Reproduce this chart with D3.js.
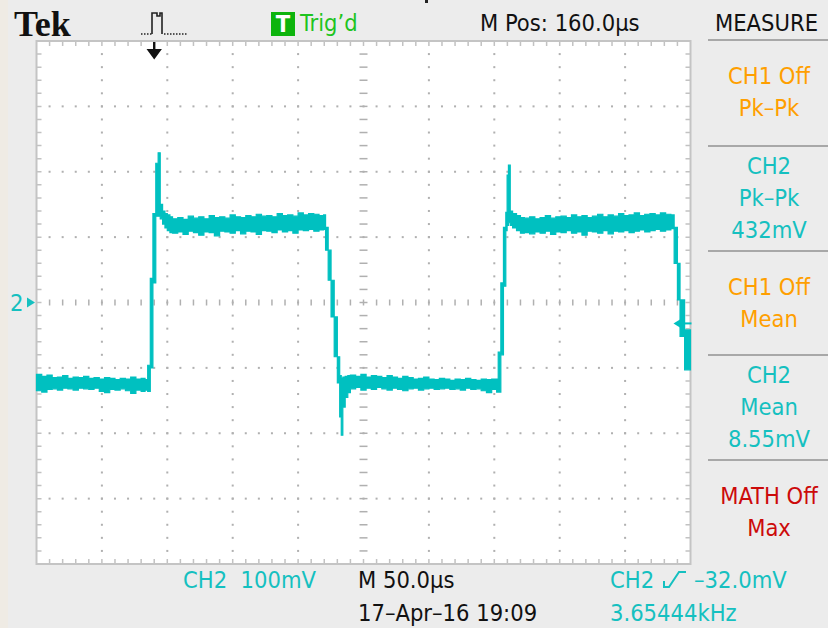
<!DOCTYPE html>
<html>
<head>
<meta charset="utf-8">
<title>Tek CH2 capture</title>
<script src="https://cdn.jsdelivr.net/npm/d3@7/dist/d3.min.js"></script>
<style>
  body { margin: 0; background: #ececec; }
  svg { display: block; }
  .lbl { font-family: "DejaVu Sans Condensed", "Liberation Sans Narrow", "DejaVu Sans", sans-serif;
         font-stretch: condensed; font-size: 23.5px; }
</style>
</head>
<body>
<script>

// CH2 trace, read off the screen as a min / max envelope per time column
// time in us (0 = trigger point), voltage in mV
var traceTime = [
  -90, -86, -82, -78, -74, -70, -66, -62, -58, -54, -50, -46, -42, -38, -34, -30, -26, -22, -18, -14, -10, -7,
  -5, -3, -1, 1.2, 3, 4.6, 6.4, 8.2, 10, 12,
  14, 18, 22, 26, 30, 34, 38, 42, 46, 50, 54, 58, 62, 66, 70, 74, 78, 82, 86, 90, 94, 98, 102, 106, 110, 114, 118, 122, 126,
  129.5, 131, 133, 135.2, 137.6, 140, 141.8, 143, 144.2, 146, 148,
  150, 154, 158, 162, 166, 170, 174, 178, 182, 186, 190, 194, 198, 202, 206, 210, 214, 218, 222, 226, 230, 234, 238, 242, 246, 250, 254, 258,
  261.8, 263, 265, 267, 268.8, 269.8, 270.8, 272.2, 274, 277, 280,
  283, 287, 291, 295, 299, 303, 307, 311, 315, 319, 323, 327, 331, 335, 339, 343, 347, 351, 355, 359, 363, 367, 371, 375, 379, 383, 387, 391, 395,
  397.5, 400, 402, 405.5, 410
];
var traceMax = [
  -110, -113, -111, -115, -114, -112, -116, -114, -115, -113, -116, -115, -117, -115, -116, -118, -116, -117, -114, -117, -116, -118,
  -96, 37, 136, 213, 229, 150, 140, 136, 134, 131,
  128, 130, 127, 132, 129, 131, 128, 133, 130, 131, 129, 134, 131, 130, 133, 131, 135, 132, 133, 131, 136, 133, 134, 132, 137, 134, 136, 135, 133,
  134, 115, 80, 34, -22, -83, -112, -116, -114, -113, -112,
  -111, -113, -110, -114, -112, -113, -115, -112, -114, -116, -113, -115, -117, -116, -114, -117, -118, -116, -117, -119, -117, -118, -116, -118, -119, -117, -118, -117,
  -117, -76, 30, 115, 138, 195, 210, 140, 136, 133, 130,
  129, 131, 128, 130, 133, 129, 131, 132, 130, 134, 131, 133, 130, 132, 135, 131, 134, 132, 136, 133, 134, 137, 133, 135, 136, 134, 137, 135, 134,
  115, 60, 4, -42, -42
];
var traceMin = [
  -135, -137, -133, -132, -134, -131, -132, -134, -131, -132, -133, -131, -136, -138, -133, -134, -132, -135, -139, -134, -136, -134,
  -136, -100, 30, 132, 132, 128, 120, 114, 110, 107,
  106, 108, 104, 109, 107, 103, 108, 107, 102, 109, 108, 106, 110, 105, 109, 108, 104, 110, 109, 107, 111, 108, 110, 106, 111, 110, 112, 109, 111,
  112, 80, 34, -22, -83, -123, -175, -203, -160, -145, -138,
  -132, -130, -134, -131, -133, -130, -132, -134, -131, -133, -135, -132, -131, -134, -132, -131, -133, -132, -131, -133, -132, -134, -131, -133, -132, -135, -138, -133,
  -137, -137, -80, 25, 110, 118, 122, 118, 114, 110, 106,
  107, 105, 108, 106, 109, 104, 108, 107, 110, 106, 108, 103, 109, 108, 106, 110, 105, 109, 108, 110, 107, 109, 111, 108, 110, 112, 109, 111, 113,
  60, 4, -52, -103, -103
];

// screen settings
var timeDomain = [-90, 410];     // 50 us/div, M Pos 160 us
var voltDomain = [-400, 400];    // 100 mV/div
var timeMinor = 10, voltMinor = 20;
var timeMajor = 50, voltMajor = 100;
var triggerLevel = -32;          // mV

// readouts
var measureLines = [
  ["CH1 Off", "Pk\u2013Pk"],
  ["CH2", "Pk\u2013Pk", "432mV"],
  ["CH1 Off", "Mean"],
  ["CH2", "Mean", "8.55mV"],
  ["MATH Off", "Max"]
];
var measureColors = ["#ff9f00", "#15c0c0", "#ff9f00", "#15c0c0", "#cc0a0a"];

var cyan = "#00c0c0";
var w = 828, h = 628;

var svg = d3.select("body").append("svg")
  .attr("width", w)
  .attr("height", h);

svg.append("rect").attr("width", w).attr("height", h).attr("fill", "#ececec");
svg.append("rect").attr("width", 8).attr("height", h).attr("fill", "#efebe4");

// scales for the graticule
var x = d3.scaleLinear().domain(timeDomain).range([36.5, 690.5]);
var y = d3.scaleLinear().domain(voltDomain).range([564, 41]);

var x0 = x.range()[0], x1 = x.range()[1];
var y0 = y.range()[1], y1 = y.range()[0];

svg.append("rect")
  .attr("x", x0).attr("y", y0)
  .attr("width", x1 - x0).attr("height", y1 - y0)
  .attr("fill", "#ffffff");

var grid = svg.append("g");
var gridColor = "#b0b0b0";

var minorT = d3.range(timeDomain[0] + timeMinor, timeDomain[1], timeMinor);
var minorV = d3.range(voltDomain[0] + voltMinor, voltDomain[1], voltMinor);
var majorT = d3.range(timeDomain[0] + timeMajor, timeDomain[1], timeMajor);
var majorV = d3.range(voltDomain[0] + voltMajor, voltDomain[1], voltMajor);
var centerT = (timeDomain[0] + timeDomain[1]) / 2;

// dotted major lines
majorT.filter(function(t) { return t != centerT; }).forEach(function(t) {
  grid.selectAll(null).data(minorV).enter().append("rect")
    .attr("x", x(t) - 1).attr("y", function(v) { return y(v) - 1; })
    .attr("width", 2).attr("height", 2).attr("fill", gridColor);
});
majorV.filter(function(v) { return v != 0; }).forEach(function(v) {
  grid.selectAll(null).data(minorT).enter().append("rect")
    .attr("x", function(t) { return x(t) - 1; }).attr("y", y(v) - 1)
    .attr("width", 2).attr("height", 2).attr("fill", gridColor);
});

// centre lines with dashes
grid.selectAll(null).data(minorV).enter().append("line")
  .attr("x1", x(centerT) - 4).attr("x2", x(centerT) + 4)
  .attr("y1", function(v) { return y(v); }).attr("y2", function(v) { return y(v); })
  .attr("stroke", gridColor).attr("stroke-width", 1.5);
grid.selectAll(null).data(minorT).enter().append("line")
  .attr("y1", y(0) - 3).attr("y2", y(0) + 3)
  .attr("x1", function(t) { return x(t); }).attr("x2", function(t) { return x(t); })
  .attr("stroke", gridColor).attr("stroke-width", 1.5);

// border ticks
grid.selectAll(null).data(minorT).enter().append("path")
  .attr("d", function(t) { return "M" + x(t) + "," + y0 + "v5M" + x(t) + "," + y1 + "v-5"; })
  .attr("stroke", "#c2c2c2").attr("stroke-width", 1.5);
grid.selectAll(null).data(minorV).enter().append("path")
  .attr("d", function(v) { return "M" + x0 + "," + y(v) + "h5M" + x1 + "," + y(v) + "h-5"; })
  .attr("stroke", "#c2c2c2").attr("stroke-width", 1.5);

svg.append("rect")
  .attr("x", x0).attr("y", y0)
  .attr("width", x1 - x0).attr("height", y1 - y0)
  .attr("fill", "none").attr("stroke", "#c4c4c4").attr("stroke-width", 2);

// the trace
var trace = traceTime.map(function(t, i) {
  return { t: t, hi: traceMax[i], lo: traceMin[i] };
});

var area = d3.area()
  .curve(d3.curveStepAfter)
  .x(function(d) { return x(d.t); })
  .y0(function(d) { return y(d.lo); })
  .y1(function(d) { return y(d.hi); });

svg.append("path")
  .datum(trace)
  .attr("d", area)
  .attr("fill", cyan)
  .attr("stroke", cyan)
  .attr("stroke-width", 1.2)
  .attr("stroke-linejoin", "miter");

// trigger position marker (t = 0)
var tx = x(0);
svg.append("path")
  .attr("d", "M" + (tx - 1.2) + "," + (y0 + 1) + "h2.4v7h6.5l-7.7,10.5l-7.7,-10.5h6.5z")
  .attr("fill", "#111");

// trigger level marker on the right edge
var ty = y(triggerLevel);
svg.append("path")
  .attr("d", "M" + (x1 - 17) + "," + ty + "l8,-5v10z")
  .attr("fill", cyan);
svg.append("line")
  .attr("x1", x1 - 10).attr("x2", x1 + 1)
  .attr("y1", ty).attr("y2", ty)
  .attr("stroke", cyan).attr("stroke-width", 2);

// channel 2 ground marker
svg.append("text").attr("class", "lbl")
  .attr("x", 10).attr("y", y(0) + 8.5)
  .attr("fill", "#15c0c0")
  .text("2");
svg.append("path")
  .attr("d", "M27," + (y(0) - 5) + "l8,5l-8,5z")
  .attr("fill", "#15c0c0");

// header
svg.append("text")
  .attr("x", 14).attr("y", 36)
  .attr("font-family", "Liberation Serif, serif")
  .attr("font-weight", "bold")
  .attr("font-size", 36)
  .attr("fill", "#111")
  .text("Tek");

svg.append("path")
  .attr("d", "M141,34h11")
  .attr("stroke", "#222").attr("stroke-width", 1.5).attr("stroke-dasharray", "1.5,1.5");
svg.append("path")
  .attr("d", "M152,34V13h5v3h3v-3h2V34")
  .attr("fill", "none").attr("stroke", "#222").attr("stroke-width", 1.6);
svg.append("path")
  .attr("d", "M164,34h23")
  .attr("stroke", "#222").attr("stroke-width", 1.5).attr("stroke-dasharray", "1.5,1.5");

svg.append("rect")
  .attr("x", 271).attr("y", 12).attr("width", 24).attr("height", 24)
  .attr("fill", "#0db40d");
svg.append("text").attr("class", "lbl")
  .attr("x", 283).attr("y", 32)
  .attr("text-anchor", "middle")
  .attr("font-size", 19).attr("font-weight", "bold")
  .attr("fill", "#ffffff")
  .text("T");
svg.append("text").attr("class", "lbl")
  .attr("x", 300).attr("y", 31)
  .attr("fill", "#1fc41f")
  .text("Trig\u2019d");

svg.append("rect").attr("x", 425).attr("y", 0).attr("width", 3).attr("height", 3).attr("fill", "#222");

svg.append("text").attr("class", "lbl")
  .attr("x", 480).attr("y", 31)
  .attr("fill", "#111")
  .text("M Pos: 160.0\u00b5s");

svg.append("text").attr("class", "lbl")
  .attr("x", 715).attr("y", 31)
  .attr("fill", "#111")
  .text("MEASURE");

// measurement panel
var sepY = [40, 146, 251, 355, 460];
svg.selectAll(".sep").data(sepY).enter().append("line")
  .attr("class", "sep")
  .attr("x1", 708).attr("x2", w)
  .attr("y1", function(d) { return d; }).attr("y2", function(d) { return d; })
  .attr("stroke", "#a8a8a8").attr("stroke-width", 2);

measureLines.forEach(function(lines, i) {
  var top = sepY[i];
  var first = lines.length == 2 ? top + 44 : top + 28;
  svg.selectAll(null).data(lines).enter().append("text")
    .attr("class", "lbl")
    .attr("x", 769)
    .attr("y", function(d, j) { return first + j * 32; })
    .attr("text-anchor", "middle")
    .attr("fill", measureColors[i])
    .text(function(d) { return d; });
});

// footer
svg.append("text").attr("class", "lbl")
  .attr("x", 183).attr("y", 588)
  .attr("fill", "#15c0c0")
  .attr("xml:space", "preserve")
  .text("CH2  100mV");
svg.append("text").attr("class", "lbl")
  .attr("x", 358).attr("y", 588)
  .attr("fill", "#111")
  .text("M 50.0\u00b5s");
svg.append("text").attr("class", "lbl")
  .attr("x", 358).attr("y", 621)
  .attr("fill", "#111")
  .text("17\u2013Apr\u201316 19:09");
svg.append("text").attr("class", "lbl")
  .attr("x", 610).attr("y", 588)
  .attr("fill", "#15c0c0")
  .text("CH2");
svg.append("path")
  .attr("d", "M664,581v6h5l10,-15h7")
  .attr("fill", "none").attr("stroke", "#15c0c0").attr("stroke-width", 2);
svg.append("text").attr("class", "lbl")
  .attr("x", 694).attr("y", 588)
  .attr("fill", "#15c0c0")
  .text("\u201332.0mV");
svg.append("text").attr("class", "lbl")
  .attr("x", 610).attr("y", 621)
  .attr("fill", "#15c0c0")
  .text("3.65444kHz");

</script>
</body>
</html>
